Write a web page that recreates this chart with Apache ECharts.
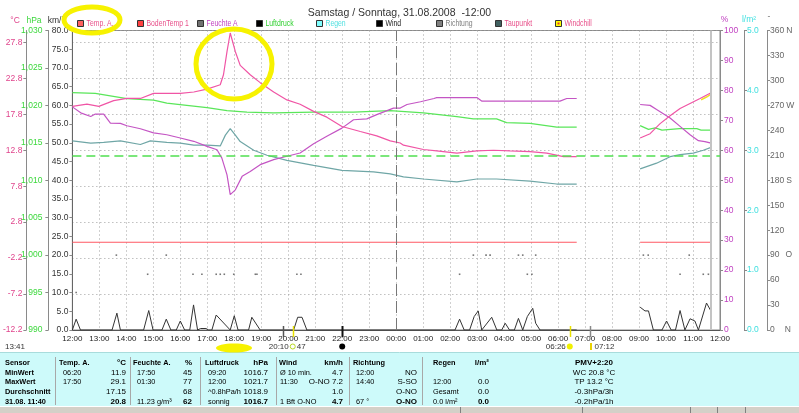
<!DOCTYPE html>
<html>
<head>
<meta charset="utf-8">
<script src="https://cdn.jsdelivr.net/npm/echarts@6/dist/echarts.min.js"></script>
<style>
html,body{margin:0;padding:0;background:#ffffff;overflow:hidden;}
#chart{width:799px;height:413px;}
</style>
</head>
<body>
<div id="chart"></div>
<script>
// ================= DATA (x = hours after Saturday 12:00) =================
const titleText = 'Samstag / Sonntag, 31.08.2008  -12:00';
const hourLabels = ['12:00','13:00','14:00','15:00','16:00','17:00','18:00','19:00','20:00','21:00','22:00','23:00',
  '00:00','01:00','02:00','03:00','04:00','05:00','06:00','07:00','08:00','09:00','10:00','11:00','12:00'];
const nowHour = 23.667;          // 11:40
const midnightHour = 12;
const refPressure = 1013.25;     // hPa reference line

const tempA = [[0,18.9],[0.54,19.2],[0.98,18.9],[1.53,19.7],[2.02,20.0],[2.52,20.0],[3.01,20.7],[3.5,20.7],[4.0,20.7],
  [4.5,20.9],[4.99,21.3],[5.48,21.9],[5.6,23.3],[5.73,26.5],[5.85,29.1],[6.04,26.5],[6.22,24.6],[6.59,23.3],[6.96,22.2],
  [7.46,20.9],[7.95,19.8],[8.44,19.2],[8.94,18.2],[9.43,17.4],[9.99,16.1],[10.67,15.4],[11.28,14.8],[11.78,14.1],
  [12.15,13.8],[12.27,13.5],[13.01,12.9],[13.5,12.7],[14.25,12.4],[14.99,12.7],[15.6,12.8],[16.22,12.7],[16.96,12.6],
  [17.58,12.4],[18.2,11.9],[18.69,11.9],[19.8,null],[21.04,14.5],[21.41,15.1],[21.78,16.5],[22.15,17.6],[22.52,18.6],
  [22.89,19.3],[23.26,20.0],[23.67,20.8]];
const bodenTemp1 = [[0,0],[18.69,0],[19.8,null],[21.04,0],[23.67,0]];
const feuchteA = [[0,74.5],[0.31,72.5],[0.68,71.3],[0.85,72.1],[1.16,72.1],[1.41,69.1],[1.78,69.0],[2.02,68.2],[2.52,67.2],
  [3.01,65.8],[3.5,65.2],[4.0,64.1],[4.5,63.0],[4.99,61.3],[5.36,60.2],[5.54,57.4],[5.73,51.8],[5.85,45.2],[6.04,46.8],
  [6.29,51.3],[6.59,52.9],[6.96,55.2],[7.46,56.9],[7.95,58.0],[8.44,59.1],[8.94,62.2],[9.43,64.7],[9.99,67.4],[10.42,70.2],
  [10.91,70.5],[11.28,71.9],[11.9,74.1],[12.15,74.1],[12.4,75.3],[12.9,76.2],[13.4,77.3],[13.5,77.6],[14.99,77.6],
  [15.18,76.4],[18.07,76.4],[18.32,77.3],[18.69,77.3],[19.8,null],[21.04,75.3],[21.41,75.0],[21.65,73.6],[22.15,70.8],
  [22.52,68.0],[22.89,65.2],[23.2,63.2],[23.44,62.9],[23.67,62.4]];
const luftdruck = [[0,1021.7],[0.85,1021.6],[2.02,1020.9],[3.01,1020.7],[3.5,1020.3],[4.24,1020.0],[4.99,1019.7],
  [5.73,1019.3],[6.47,1019.1],[7.46,1019.0],[8.94,1019.1],[10.42,1019.1],[11.78,1019.3],[13.01,1019.0],[14.25,1018.5],
  [14.86,1018.2],[15.72,1018.2],[16.09,1017.7],[16.96,1017.6],[17.95,1017.1],[18.69,1017.1],[19.8,null],[21.04,1017.3],
  [21.35,1016.8],[21.6,1017.0],[21.85,1016.7],[22.5,1016.9],[23.14,1016.9],[23.3,1016.7],[23.67,1016.7]];
const taupunkt = [[0,14.1],[0.68,13.8],[1.16,13.9],[1.78,14.1],[2.52,13.6],[2.89,14.1],[3.5,13.9],[4.0,13.8],[4.5,13.5],
  [4.99,13.5],[5.48,13.4],[5.67,14.9],[5.85,15.8],[6.04,14.9],[6.22,14.0],[6.72,12.8],[7.21,12.1],[7.95,11.4],[8.94,10.7],
  [9.99,10.0],[11.16,9.8],[11.78,9.5],[12.27,9.1],[13.01,8.8],[14.25,8.4],[14.99,8.8],[15.72,8.8],[16.96,8.5],[17.95,8.1],
  [18.69,8.1],[19.8,null],[21.04,10.2],[21.65,11.0],[22.15,11.9],[22.52,12.2],[23.01,12.4],[23.38,12.8],[23.67,13.2]];
const windchill = [[23.3,19.8],[23.5,20.2],[23.67,20.6]];
const wind = [[0,0],[0.14,2.9],[0.3,0],[1.47,0],[1.65,4.5],[1.78,0],[2.64,0],[2.83,5.2],[2.99,0],[3.32,0],[3.48,2.9],
  [3.65,0],[3.85,0],[4.0,2.4],[4.16,0],[4.35,0],[4.49,6.7],[4.64,0],[4.75,0.4],[4.95,0.4],[5.05,0],[5.17,0],[5.33,4.0],
  [5.85,0],[5.91,0],[6.0,3.8],[6.14,0],[6.53,0],[6.65,3.4],[6.96,0],[8.2,0],[8.35,3.4],[8.51,3.4],[8.69,0],[14.18,0],
  [14.35,2.9],[14.52,0],[14.72,0],[14.89,3.6],[15.04,5.1],[15.17,0],[15.54,3.4],[15.73,0],[15.91,0],[16.04,1.8],[16.2,0],
  [16.38,0],[16.53,3.1],[16.69,0],[16.86,3.6],[17.06,5.8],[17.17,1.8],[17.33,0],[18.69,0],[19.8,null],[21.04,6.1],
  [21.22,5.1],[21.35,5.1],[21.53,0],[21.85,0],[22.02,2.4],[22.19,0],[22.35,0],[22.52,5.2],[22.7,0],[22.89,3.0],
  [23.07,2.4],[23.2,0],[23.5,7.2],[23.67,5.0]];
const richtung = [[0.14,45],[1.63,90],[2.79,67],[3.48,90],[4.47,67],[4.8,67],[5.33,67],[5.48,67],[5.63,67],[5.98,67],
  [6.78,67],[6.84,67],[8.32,67],[8.47,67],[14.35,67],[14.86,90],[15.33,90],[15.48,90],[16.53,90],[16.69,90],[16.86,67],
  [17.03,67],[17.17,90],[21.16,90],[21.34,90],[22.52,67],[22.86,90],[23.38,67],[23.57,67]];
const dirLetters = {0:'N',90:'O',180:'S',270:'W',360:'N'};

// sun / moon events under the time axis
const eventHours  = [7.8, 8.167, 10.0, 18.433, 19.2];
const eventColors = ['#555555','#e8e000','#111111','#e8e000','#888888'];
const eventTexts  = {sunset:'20:10', moonPct:'47', sunrise:'06:26', dawn:'07:12', start:'13:41'};

const legendNames = ['Temp. A.','BodenTemp 1','Feuchte A','Luftdruck','Regen','Wind','Richtung','Taupunkt','Windchill'];

const tblLabels = ['Sensor','MinWert','MaxWert','Durchschnitt','31.08. 11:40'];
const tblHeads  = [['Temp. A.','°C'],['Feuchte A.','%'],['Luftdruck','hPa'],['Wind','km/h'],['Richtung',''],['Regen','l/m²']];
const tblLeft   = [['06:20','17:50','',''],['17:50','01:30','','11.23 g/m³'],['09:20','12:00','^0.8hPa/h','sonnig'],
                   ['Ø 10 min.','11:30','','1 Bft O-NO'],['12:00','14:40','','67 °'],['','12:00','Gesamt','0.0 l/m²']];
const tblRight  = [['11.9','29.1','17.15','20.8'],['45','77','68','62'],['1016.7','1021.7','1018.9','1016.7'],
                   ['4.7','O-NO 7.2','1.0','4.7'],['NO','S-SO','O-NO','O-NO'],['','0.0','0.0','0.0']];
const tblExtra  = ['PMV+2:20','WC 20.8 °C','TP 13.2 °C','-0.3hPa/3h','-0.2hPa/1h'];

// ================= CHART =================
const FONT = '"Liberation Sans", Arial, sans-serif';
const chart = echarts.init(document.getElementById('chart'));
const aFont = {fontFamily: FONT, fontSize: 8.5};
function yAx(o) {
  return Object.assign({
    type: 'value', splitLine: {show: false},
    axisLine: {show: true, onZero: false, lineStyle: {color: '#8a8a8a', width: 1}},
    axisTick: {show: true, length: 3, lineStyle: {color: '#8a8a8a'}}
  }, o);
}
const lineS = (name, data, yIdx, color, w, extra) => Object.assign({
  name, type: 'line', data, yAxisIndex: yIdx, showSymbol: false, symbol: 'none', silent: true,
  connectNulls: false, lineStyle: {color, width: w || 1}, itemStyle: {color}
}, extra || {});

chart.setOption({
  animation: false,
  backgroundColor: '#ffffff',
  textStyle: {fontFamily: FONT},
  title: {text: titleText, left: 'center', top: 3,
    textStyle: {fontFamily: FONT, fontSize: 10.5, fontWeight: 'normal', color: '#333'}},
  grid: {left: 72, right: 79, top: 30.5, bottom: 83, show: true, borderColor: '#8a8a8a', borderWidth: 1},
  xAxis: {type: 'value', min: 0, max: 24, interval: 1,
    axisLine: {onZero: false, lineStyle: {color: '#555'}},
    axisTick: {show: false},
    axisLabel: {formatter: v => hourLabels[Math.round(v)], fontFamily: FONT, fontSize: 8, color: '#222', margin: 5},
    splitLine: {show: true, lineStyle: {color: '#a0a0a0', type: [1, 3]}}},
  yAxis: [
    yAx({position: 'left', offset: 0, min: 0, max: 80, interval: 5,
      axisLine: {show: true, onZero: false, lineStyle: {color: '#666'}},
      axisLabel: Object.assign({}, aFont, {color: '#333', margin: 4, formatter: v => v.toFixed(1)})}),
    yAx({position: 'left', offset: 46, min: -12.2, max: 29.45, interval: 5,
      axisLabel: Object.assign({}, aFont, {color: '#e0448c', margin: 4, showMaxLabel: false, formatter: v => v.toFixed(1)}),
      splitLine: {show: true, lineStyle: {color: '#a0a0a0', type: [1, 3]}}}),
    yAx({position: 'left', offset: 24, min: 990, max: 1030, interval: 5,
      axisLabel: Object.assign({}, aFont, {color: '#3cd83c', margin: 6})}),
    yAx({position: 'right', offset: 0, min: 0, max: 100, interval: 10,
      axisLabel: Object.assign({}, aFont, {color: '#c040c0', margin: 4})}),
    yAx({position: 'right', offset: 24, min: 0, max: 5, interval: 1,
      axisLabel: Object.assign({}, aFont, {color: '#40e0e0', margin: 3, formatter: v => v.toFixed(1)})}),
    yAx({position: 'right', offset: 47, min: 0, max: 360, interval: 30,
      axisLabel: {margin: 3, color: '#666', fontFamily: FONT, fontSize: 8.5,
        formatter: v => dirLetters[v] ? v + '{d' + String(v).length + '|' + dirLetters[v] + '}' : String(v),
        rich: {
          d1: {fontFamily: FONT, fontSize: 8.5, color: '#666', padding: [0, 0, 0, 10]},
          d2: {fontFamily: FONT, fontSize: 8.5, color: '#666', padding: [0, 0, 0, 6]},
          d3: {fontFamily: FONT, fontSize: 8.5, color: '#666', padding: [0, 0, 0, 2]}}}})
  ],
  series: [
    lineS('BodenTemp 1', bodenTemp1, 1, '#ff5a64', 1.2),
    lineS('Luftdruck', luftdruck, 2, '#5ae65a', 1.2, {
      markLine: {silent: true, symbol: 'none', label: {show: false}, animation: false,
        lineStyle: {color: '#50e050', type: [9, 5], width: 1.5}, data: [{yAxis: refPressure}]}}),
    lineS('Taupunkt', taupunkt, 1, '#6fa6a6', 1.2),
    lineS('Feuchte A', feuchteA, 3, '#c455c4', 1.2),
    lineS('Windchill', windchill, 1, '#f0e020', 1.5),
    lineS('Temp. A.', tempA, 1, '#f055a5', 1.2, {
      markLine: {silent: true, symbol: 'none', label: {show: false}, animation: false,
        data: [{xAxis: midnightHour, lineStyle: {color: '#777', type: [12, 5], width: 1}},
               {xAxis: nowHour, lineStyle: {color: '#c4c4c4', type: 'solid', width: 2}}]}}),
    lineS('Wind', wind, 0, '#333333', 1),
    {name: 'Richtung', type: 'scatter', yAxisIndex: 5, data: richtung, symbol: 'rect', symbolSize: 1.6,
      silent: true, itemStyle: {color: '#555'}}
  ]
});

// ================= GRAPHIC (legend, headers, annotations, table) =================
const G = [];
const T = (x, y, s, o = {}) => G.push({
  type: 'text', x, y, scaleX: o.sx || 1, silent: true, z: o.z || 10,
  style: {text: s, x: 0, y: 0, fill: o.c || '#000', font: (o.b ? 'bold ' : '') + (o.fs || 8) + 'px ' + FONT,
    textAlign: o.a || 'left', align: o.a || 'left', textVerticalAlign: 'middle', verticalAlign: 'middle'}
});
const R = (x, y, w, h, fill, stroke, z) => G.push({type: 'rect', silent: true, z: z || 5,
  shape: {x, y, width: w, height: h}, style: {fill, stroke: stroke || null, lineWidth: 1}});
const L = (x1, y1, x2, y2, stroke, w, z) => G.push({type: 'line', silent: true, z: z || 6,
  shape: {x1, y1, x2, y2}, style: {stroke, lineWidth: w || 1}});
const P = (h, v) => chart.convertToPixel({xAxisIndex: 0, yAxisIndex: 0}, [h, v]);

// axis headers
T(15, 21, '°C', {c: '#e0448c', fs: 8.5, a: 'center'});
T(34, 21, 'hPa', {c: '#3cd83c', fs: 8.5, a: 'center'});
T(57, 21, 'km/h', {c: '#333', fs: 8.5, a: 'center'});
T(724.5, 20, '%', {c: '#c040c0', fs: 8.5, a: 'center'});
T(749, 20, 'l/m²', {c: '#40e0e0', fs: 8.5, a: 'center'});
T(769, 17, '-', {c: '#777', fs: 8.5, a: 'center'});

// legend row
const legFill = ['#ff6060','#ff4040','#707070','#000000','#80ffff','#000000','#808080','#406060','#ffff00'];
const legText = ['#e8508a','#e8508a','#c040c0','#30d030','#50e0e0','#222222','#808080','#e8508a','#e8508a'];
legendNames.forEach((n, i) => {
  const x0 = Math.round(77 + i * 59.75);
  R(x0 + 0.5, 20.5, 6, 6, legFill[i], '#333', 8);
  if (i === 8) R(x0 + 2.5, 22.5, 2, 2, '#e03030', null, 9);
  T(x0 + 9.5, 24, n, {c: legText[i], fs: 9, sx: 0.76});
});

// sun / moon events under the axis
eventHours.forEach((h, i) => {
  const x = Math.round(P(h, 0)[0]) + 0.5;
  L(x, 326, x, 337, eventColors[i], i === 2 ? 2 : 1.5, 7);
});
const xs = eventHours.map(h => P(h, 0)[0]);
T(xs[1] - 4, 346.5, eventTexts.sunset, {c: '#333', fs: 8, a: 'right'});
G.push({type: 'circle', silent: true, z: 8, shape: {cx: xs[1], cy: 346.5, r: 2.5}, style: {fill: '#fff', stroke: '#b8d820', lineWidth: 1}});
T(xs[1] + 4, 346.5, eventTexts.moonPct, {c: '#333', fs: 8});
G.push({type: 'circle', silent: true, z: 8, shape: {cx: xs[2], cy: 346.5, r: 3}, style: {fill: '#000'}});
T(xs[3] - 4, 346.5, eventTexts.sunrise, {c: '#333', fs: 8, a: 'right'});
G.push({type: 'circle', silent: true, z: 8, shape: {cx: xs[3], cy: 346.5, r: 3}, style: {fill: '#f0f000'}});
L(xs[4] + 0.5, 343, xs[4] + 0.5, 350, '#e8d000', 2, 8);
T(xs[4] + 4, 346.5, eventTexts.dawn, {c: '#333', fs: 8});
T(5, 346.5, eventTexts.start, {c: '#333', fs: 8});

// table
R(0, 352.5, 799, 53.5, '#cdfafa', null, 2);
L(0, 352.5, 799, 352.5, '#a8dcdc', 1, 3);
R(0, 406, 799, 7, '#d4d0c8', null, 2);
L(0, 406.5, 799, 406.5, '#ffffff', 1, 3);
[460, 582, 690, 717, 745].forEach(x => L(x + 0.5, 407, x + 0.5, 413, '#808080', 1, 3));

const rowY = [363, 372.5, 382, 392, 401.5];
const colSep = [55, 130, 200, 276, 349, 422];
const colLeft = [59, 133, 205, 279, 353, 433];
const colRight = [126, 192, 268, 343, 417, 489];
const valIndent = [4, 4, 3, 1, 3, 0];
tblLabels.forEach((s, r) => T(5, rowY[r], s, {b: true, fs: 8, sx: 0.92}));
tblHeads.forEach((hd, c) => {
  L(colSep[c] + 0.5, 357, colSep[c] + 0.5, 405, '#a8a8a8', 1, 4);
  T(colLeft[c], rowY[0], hd[0], {b: true, fs: 8, sx: 0.92});
  if (hd[1]) T(colRight[c], rowY[0], hd[1], {b: true, fs: 8, a: 'right'});
  tblLeft[c].forEach((s, r) => { if (s) T(colLeft[c] + valIndent[c], rowY[r + 1], s, {fs: 8, sx: 0.92}); });
  tblRight[c].forEach((s, r) => { if (s) T(colRight[c], rowY[r + 1], s, {fs: 8, b: r === 3, a: 'right'}); });
});
tblExtra.forEach((s, r) => T(594, rowY[r], s, {fs: 8, b: r === 0, a: 'center'}));

// hand-drawn yellow highlights
G.push({type: 'ellipse', silent: true, z: 100, shape: {cx: 92, cy: 20, rx: 28, ry: 13},
  style: {fill: 'none', stroke: '#f7f200', lineWidth: 5}});
G.push({type: 'ellipse', silent: true, z: 100, shape: {cx: 234, cy: 64, rx: 38, ry: 35},
  style: {fill: 'none', stroke: '#f7f200', lineWidth: 5}});
G.push({type: 'ellipse', silent: true, z: 100, shape: {cx: 234, cy: 348, rx: 18, ry: 4.5},
  style: {fill: '#f7f200', stroke: null}});

chart.setOption({graphic: {elements: G}});
</script>
</body>
</html>
